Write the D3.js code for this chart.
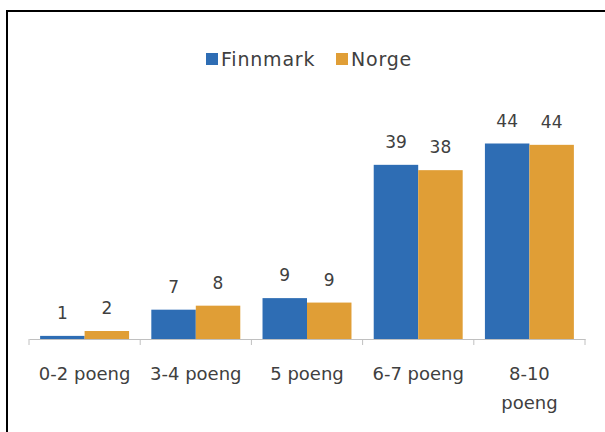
<!DOCTYPE html>
<html>
<head>
<meta charset="utf-8">
<style>
  body { margin: 0; background: #fff; }
  text { font-family: "DejaVu Sans", sans-serif; fill: #404040; }
</style>
<script src="https://cdnjs.cloudflare.com/ajax/libs/d3/7.8.5/d3.min.js"></script>
</head>
<body>
<script>
var categories = ["0-2 poeng", "3-4 poeng", "5 poeng", "6-7 poeng", "8-10 poeng"];
var seriesNames = ["Finnmark", "Norge"];
var finnmark = [0.7, 6.6, 9.2, 39.2, 44.0];
var norge = [1.8, 7.5, 8.2, 38.0, 43.7];
var finnmarkLabels = ["1", "7", "9", "39", "44"];
var norgeLabels = ["2", "8", "9", "38", "44"];
var colors = ["#2e6db4", "#e09e36"];

var width = 605, height = 432;
var svg = d3.select("body").append("svg")
    .attr("width", width)
    .attr("height", height);

// frame
svg.append("rect")
    .attr("x", 7).attr("y", 11)
    .attr("width", 620).attr("height", 440)
    .attr("fill", "none")
    .attr("stroke", "#000")
    .attr("stroke-width", 2);

var xBand = d3.scaleBand().domain(categories).range([29, 585]);

var x1 = d3.scaleBand()
    .domain(seriesNames)
    .range([0, xBand.bandwidth() * 0.8]);

var y = d3.scaleLinear()
    .domain([0, 44])
    .range([339, 143.5]);

var data = categories.map(function(c, i) {
  return { cat: c, values: [finnmark[i], norge[i]], labels: [finnmarkLabels[i], norgeLabels[i]] };
});

var groups = svg.selectAll("g.grp")
    .data(data)
    .enter().append("g")
    .attr("class", "grp")
    .attr("transform", function(d) {
      return "translate(" + (xBand(d.cat) + xBand.bandwidth() * 0.1) + ",0)";
    });

groups.selectAll("rect")
    .data(function(d) { return d.values.map(function(v, j) { return { s: seriesNames[j], v: v, j: j, l: d.labels[j] }; }); })
    .enter().append("rect")
    .attr("x", function(d) { return x1(d.s); })
    .attr("y", function(d) { return y(d.v); })
    .attr("width", x1.bandwidth())
    .attr("height", function(d) { return y(0) - y(d.v); })
    .attr("fill", function(d) { return colors[d.j]; });

groups.selectAll("text.val")
    .data(function(d) { return d.values.map(function(v, j) { return { s: seriesNames[j], v: v, l: d.labels[j] }; }); })
    .enter().append("text")
    .attr("class", "val")
    .attr("x", function(d) { return x1(d.s) + x1.bandwidth() / 2; })
    .attr("y", function(d) { return y(d.v) - 17; })
    .attr("text-anchor", "middle")
    .style("font-size", "17px")
    .text(function(d) { return d.l; });

// x axis
var xAxis = svg.append("g")
    .attr("transform", "translate(0,339)")
    .call(d3.axisBottom(xBand).tickSize(0).tickFormat(""));
xAxis.select(".domain").attr("stroke", "#c0c0c0").attr("stroke-width", 1.2);

var tickPos = categories.map(function(c) { return xBand(c); }).concat([xBand.range()[1]]);
svg.selectAll("line.tk")
    .data(tickPos)
    .enter().append("line")
    .attr("class", "tk")
    .attr("x1", function(d) { return d; })
    .attr("x2", function(d) { return d; })
    .attr("y1", 339).attr("y2", 345)
    .attr("stroke", "#c0c0c0");

svg.selectAll("text.cat")
    .data(categories)
    .enter().append("text")
    .attr("class", "cat")
    .attr("text-anchor", "middle")
    .style("font-size", "18px")
    .each(function(d) {
      var t = d3.select(this);
      var cx = xBand(d) + xBand.bandwidth() / 2;
      var lines = d === "8-10 poeng" ? ["8-10", "poeng"] : [d];
      lines.forEach(function(l, i) {
        t.append("tspan").attr("x", cx).attr("y", 380 + i * 29).text(l);
      });
    });

// legend
var legend = svg.append("g");
var legX = [206, 336];
seriesNames.forEach(function(s, i) {
  legend.append("rect")
      .attr("x", legX[i]).attr("y", 53)
      .attr("width", 12).attr("height", 12)
      .attr("fill", colors[i]);
  legend.append("text")
      .attr("x", legX[i] + 15).attr("y", 66)
      .style("font-size", "19px")
      .style("letter-spacing", "0.8px")
      .text(s);
});
</script>
</body>
</html>
